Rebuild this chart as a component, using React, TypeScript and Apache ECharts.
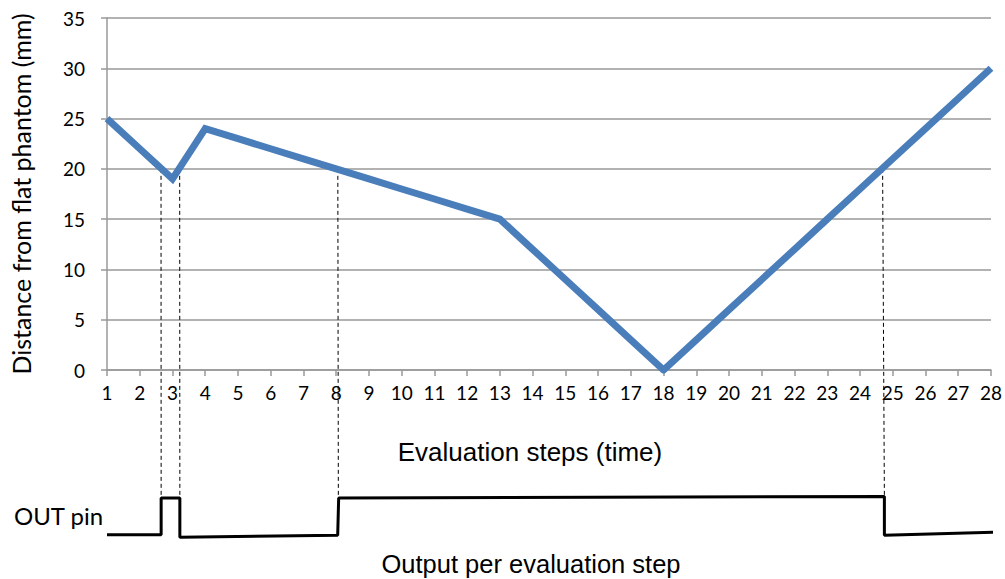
import React, { useEffect, useRef } from "react";
import * as echarts from "echarts";

const steps: number[] = Array.from({ length: 28 }, (_, i) => i + 1);
const distance: number[] = [
  25, 22, 19, 24, 23, 22, 21, 20, 19, 18, 17, 16, 15, 12, 9, 6, 3, 0, 3, 6, 9,
  12, 15, 18, 21, 24, 27, 30,
];
// OUT pin signal: [step, level]
const outPin: [number, number][] = [
  [1, 0.03],
  [2.65, 0.03],
  [2.65, 1],
  [3.22, 1],
  [3.22, -0.03],
  [8.03, 0.02],
  [8.06, 1],
  [24.69, 1.04],
  [24.69, 0.02],
  [28, 0.1],
];
// threshold crossings: [step, distance]
const crossings: [number, number][] = [
  [2.65, 20],
  [3.22, 20],
  [8.05, 20],
  [24.69, 20],
];
const yTicks = { min: 0, max: 35, interval: 5 };

const FONT = "Lato";

export default function App() {
  const ref = useRef<HTMLDivElement>(null);
  useEffect(() => {
    if (!ref.current) return;
    const chart = echarts.init(ref.current, undefined, { renderer: "svg" });
    const axisGrey = "#989898";
    const option: any = {
      animation: false,
      backgroundColor: "#ffffff",
      textStyle: { fontFamily: FONT },
      title: [
        {
          text: "Evaluation steps (time)",
          left: 530,
          top: 439,
          padding: 0,
          textAlign: "center",
          textStyle: { fontFamily: "Liberation Sans", fontSize: 26, fontWeight: "normal", color: "#000" },
        },
        {
          text: "Output per evaluation step",
          left: 531,
          top: 551,
          padding: 0,
          textAlign: "center",
          textStyle: { fontFamily: "Liberation Sans", fontSize: 25.5, fontWeight: "normal", color: "#000" },
        },
        {
          text: "OUT pin",
          left: 14,
          top: 503,
          padding: 0,
          textStyle: { fontFamily: FONT, fontSize: 24, fontWeight: "normal", color: "#000" },
        },
      ],
      grid: [
        { left: 107, right: 12, top: 18, bottom: 209, containLabel: false },
        { left: 107, right: 12, top: 498, bottom: 43, containLabel: false },
      ],
      xAxis: [
        {
          gridIndex: 0,
          type: "value",
          min: 1,
          max: 28,
          interval: 1,
          axisLine: { show: true, lineStyle: { color: axisGrey, width: 1.5 } },
          axisTick: { show: true, length: 6, lineStyle: { color: axisGrey, width: 1.5 } },
          axisLabel: { margin: 13, fontSize: 19, color: "#000", fontFamily: FONT },
          splitLine: { show: false },
        },
        {
          gridIndex: 1,
          type: "value",
          min: 1,
          max: 28,
          show: false,
        },
      ],
      yAxis: [
        {
          gridIndex: 0,
          type: "value",
          min: yTicks.min,
          max: yTicks.max,
          interval: yTicks.interval,
          name: "Distance from flat phantom (mm)",
          nameLocation: "middle",
          nameRotate: 90,
          nameGap: 74,
          nameTextStyle: { fontSize: 25, color: "#000", fontFamily: FONT },
          axisLine: { show: true, lineStyle: { color: axisGrey, width: 1.5 } },
          axisTick: { show: true, length: 6, lineStyle: { color: axisGrey, width: 1.5 } },
          axisLabel: { margin: 22, fontSize: 19, color: "#000", fontFamily: FONT },
          splitLine: { show: true, lineStyle: { color: axisGrey, width: 1.5 } },
        },
        {
          gridIndex: 1,
          type: "value",
          min: 0,
          max: 1,
          show: false,
        },
      ],
      series: [
        {
          type: "line",
          xAxisIndex: 0,
          yAxisIndex: 0,
          data: steps.map((s, i) => [s, distance[i]]),
          showSymbol: false,
          symbol: "none",
          z: 5,
          lineStyle: { color: "#4a7ebb", width: 7, join: "miter" },
        },
        {
          type: "line",
          xAxisIndex: 1,
          yAxisIndex: 1,
          data: outPin,
          showSymbol: false,
          symbol: "none",
          clip: false,
          z: 5,
          lineStyle: { color: "#000", width: 3 },
        },
      ],
    };
    chart.setOption(option);
    const lines = crossings.map(([x, v]) => {
      const top = chart.convertToPixel({ xAxisIndex: 0, yAxisIndex: 0 } as any, [x, v]) as number[];
      const bot = chart.convertToPixel({ xAxisIndex: 1, yAxisIndex: 1 } as any, [x, 1]) as number[];
      return {
        type: "line",
        silent: true,
        z: 1,
        shape: { x1: top[0], y1: top[1], x2: bot[0], y2: bot[1] },
        style: { stroke: "#000", lineWidth: 1, lineDash: [4, 3] },
      };
    });
    chart.setOption({ graphic: lines });
    return () => chart.dispose();
  }, []);
  return (
    <div
      ref={ref}
      style={{ position: "absolute", left: 0, top: 0, width: 1005, height: 579 }}
    />
  );
}
